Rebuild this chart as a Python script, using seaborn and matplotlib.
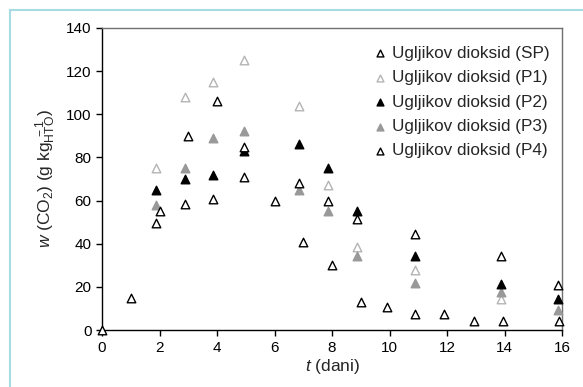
import matplotlib
matplotlib.use("Agg")
import matplotlib.pyplot as plt
from matplotlib.patches import Rectangle
import seaborn as sns
import pandas as pd

# SP sampled daily, P1-P4 on common sampling days
t_sp = [0, 1, 2, 3, 4, 4.95, 6, 7, 8, 9, 9.9, 10.9, 11.9, 12.95, 13.95, 15.9]
w_sp = [0, 15, 55, 90, 106, 85, 60, 41, 30, 13, 10.5, 7.5, 7.5, 4, 4, 4.3]

t_p = [1.87, 2.87, 3.87, 4.95, 6.85, 7.87, 8.87, 10.87, 13.87, 15.87]
w_p1 = [75, 108, 115, 125, 104, 67, 38.6, 27.8, 14.2]
w_p2 = [65, 70, 72, 83, 86, 75, 55, 34.3, 21.3, 14.2]
w_p3 = [58, 75, 89, 92, 65, 55, 34.5, 21.6, 17.8, 9.3]
w_p4 = [49.7, 58.4, 60.6, 71, 68, 60, 51.3, 44.5, 34.3, 20.9]

labels = ["Ugljikov dioksid (SP)", "Ugljikov dioksid (P1)", "Ugljikov dioksid (P2)",
          "Ugljikov dioksid (P3)", "Ugljikov dioksid (P4)"]

frames = [
    pd.DataFrame({"t": t_sp, "w": w_sp, "serija": labels[0]}),
    pd.DataFrame({"t": t_p[:len(w_p1)], "w": w_p1, "serija": labels[1]}),
    pd.DataFrame({"t": t_p, "w": w_p2, "serija": labels[2]}),
    pd.DataFrame({"t": t_p, "w": w_p3, "serija": labels[3]}),
    pd.DataFrame({"t": t_p, "w": w_p4, "serija": labels[4]}),
]
df = pd.concat(frames, ignore_index=True)

# face, edge, zorder
styles = {
    labels[0]: ("white", "black", 5),
    labels[1]: ("white", "#b4b4b4", 3),
    labels[2]: ("black", "black", 4),
    labels[3]: ("#999999", "#999999", 3),
    labels[4]: ("white", "black", 5),
}

sns.set_style("white")
plt.rcParams["font.family"] = ["Liberation Sans", "DejaVu Sans"]
plt.rcParams["mathtext.fontset"] = "custom"
plt.rcParams["mathtext.rm"] = "Liberation Sans"
plt.rcParams["mathtext.it"] = "Liberation Sans:italic"

fig = plt.figure(figsize=(5.83, 3.87), dpi=100)
ax = fig.add_axes([0.175, 0.147, 0.789, 0.781])

for lab in labels:
    fc, ec, z = styles[lab]
    sns.scatterplot(data=df[df["serija"] == lab], x="t", y="w", ax=ax, marker="^",
                    s=38, color=fc, edgecolor=ec, linewidth=1.0, label=lab,
                    zorder=z, clip_on=False)

ax.set_xlim(0, 16)
ax.set_ylim(0, 140)
ax.set_xticks(range(0, 17, 2))
ax.set_yticks(range(0, 141, 20))
ax.tick_params(axis="both", direction="out", length=4, width=1, labelsize=11,
               left=True, bottom=True, colors="black")
ax.set_xlabel(r"$t$ (dani)", fontsize=12.5, labelpad=2)
ax.set_ylabel(r"$w$ (CO$_2$) (g kg$_{\mathrm{HTO}}^{\ -1}$)", fontsize=12.5, labelpad=6)

for side in ["left", "bottom"]:
    ax.spines[side].set_color("black")
    ax.spines[side].set_linewidth(1.0)
for side in ["top", "right"]:
    ax.spines[side].set_color("#707070")
    ax.spines[side].set_linewidth(1.0)

leg = ax.legend(loc="upper right", frameon=False, fontsize=12.3, handletextpad=0.15,
                handlelength=1.2, borderaxespad=0.3, labelspacing=0.55,
                markerscale=0.8, bbox_to_anchor=(1.0, 0.98))

fig.patches.append(Rectangle((10 / 583, -0.1), 1.2, 1.1 - 10 / 387, fill=False,
                             edgecolor="#a6dde2", linewidth=1.5,
                             transform=fig.transFigure, figure=fig))

fig.savefig("out.png", dpi=100)
